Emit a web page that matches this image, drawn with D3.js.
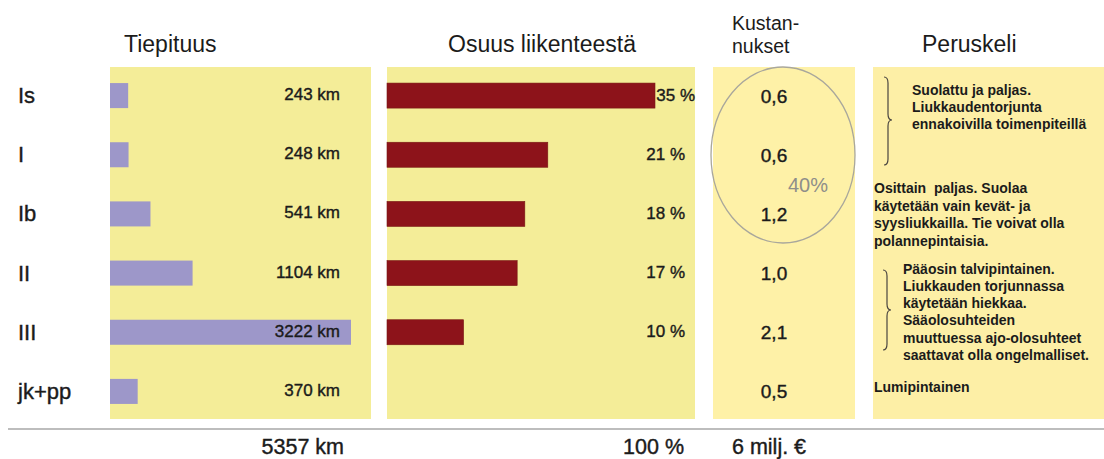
<!DOCTYPE html>
<html>
<head>
<meta charset="utf-8">
<script src="https://cdn.jsdelivr.net/npm/d3@7"></script>
<style>
  html, body { margin: 0; padding: 0; background: #fff; }
  svg { display: block; font-family: "Liberation Sans", Arial, Helvetica, sans-serif; }
  text { white-space: pre; }
</style>
</head>
<body>
<svg id="chart" width="1104" height="459"></svg>
<script>
// ---- data ----
const categories = ["Is", "I", "Ib", "II", "III", "jk+pp"];
const lengthKm = [243, 248, 541, 1104, 3222, 370];
const trafficShare = [35, 21, 18, 17, 10, null];
const costs = [0.6, 0.6, 1.2, 1.0, 2.1, 0.5];
const columnTitles = ["Tiepituus", "Osuus liikenteestä", ["Kustan-", "nukset"], "Peruskeli"];
const totals = ["5357 km", "100 %", "6 milj. €"];
const highlightShare = "40%";
const conditionBlock1 = ["Suolattu ja paljas.", "Liukkaudentorjunta", "ennakoivilla toimenpiteillä"];
const conditionBlock2 = ["Osittain  paljas. Suolaa", "käytetään vain kevät- ja", "syysliukkailla. Tie voivat olla", "polannepintaisia."];
const conditionBlock3 = ["Pääosin talvipintainen.", "Liukkauden torjunnassa", "käytetään hiekkaa.", "Sääolosuhteiden", "muuttuessa ajo-olosuhteet", "saattavat olla ongelmalliset."];
const conditionBlock4 = ["Lumipintainen"];

// ---- layout ----
const svg = d3.select("#chart");
const textCol = "#1b1b1b";
const panelTop = 67, panelBottom = 419;

const y = d3.scaleBand().domain(categories).range([66, 421])
  .paddingInner(0.577).paddingOuter(0.2885);
const yc = c => y(c) + y.bandwidth() / 2;

const xLen = d3.scaleLinear().domain([0, d3.max(lengthKm)]).range([110, 351]);
const xShare = d3.scaleLinear().domain([0, d3.max(trafficShare)]).range([387, 655]);

const panels = [
  {x0: 110, x1: 371, fill: "#F4ED98"},
  {x0: 387, x1: 695, fill: "#F4ED98"},
  {x0: 713, x1: 855, fill: "#FEF1A7"},
  {x0: 873, x1: 1104, fill: "#FDEFA6"}
];
svg.selectAll("rect.panel").data(panels).join("rect")
  .attr("class", "panel")
  .attr("x", d => d.x0).attr("y", panelTop)
  .attr("width", d => d.x1 - d.x0).attr("height", panelBottom - panelTop)
  .attr("fill", d => d.fill);

// medium-weight look
const heavy = sel => sel.attr("stroke", textCol).attr("stroke-width", 0.4);

// titles
const titleSize = 23;
svg.append("text").attr("x", 124).attr("y", 52).attr("font-size", titleSize)
  .attr("fill", textCol).text(columnTitles[0]);
svg.append("text").attr("x", 448).attr("y", 52).attr("font-size", titleSize)
  .attr("fill", textCol).text(columnTitles[1]);
svg.append("text").attr("x", 732).attr("font-size", 19.5).attr("fill", textCol)
  .selectAll("tspan").data(columnTitles[2]).join("tspan")
  .attr("x", 732).attr("y", (d, i) => 30 + i * 23).text(d => d);
svg.append("text").attr("x", 922).attr("y", 52).attr("font-size", titleSize)
  .attr("fill", textCol).text(columnTitles[3]);

// row labels
svg.selectAll("text.row").data(categories).join("text")
  .attr("class", "row")
  .attr("x", 18).attr("y", d => yc(d) + 7.5)
  .attr("font-size", 22).attr("fill", textCol).text(d => d)
  .call(heavy);

// length bars
svg.selectAll("rect.len").data(lengthKm).join("rect")
  .attr("class", "len")
  .attr("x", xLen(0)).attr("y", (d, i) => y(categories[i]))
  .attr("width", d => xLen(d) - xLen(0)).attr("height", y.bandwidth())
  .attr("fill", "#9D97C9");
svg.selectAll("text.len").data(lengthKm).join("text")
  .attr("class", "len")
  .attr("x", 340).attr("y", (d, i) => yc(categories[i]) + 4.5)
  .attr("text-anchor", "end").attr("font-size", 17).attr("fill", textCol)
  .text(d => d + " km")
  .call(heavy);

// traffic share bars
const shareData = trafficShare.map((v, i) => ({v, c: categories[i]})).filter(d => d.v != null);
svg.selectAll("rect.share").data(shareData).join("rect")
  .attr("class", "share")
  .attr("x", xShare(0)).attr("y", d => y(d.c))
  .attr("width", d => xShare(d.v) - xShare(0)).attr("height", y.bandwidth())
  .attr("fill", "#8D131A").attr("stroke", "#7a1a14").attr("stroke-width", 0.6);
svg.selectAll("text.share").data(shareData).join("text")
  .attr("class", "share")
  .attr("x", d => Math.max(685, xShare(d.v) + 40)).attr("y", d => yc(d.c) + 5)
  .attr("text-anchor", "end").attr("font-size", 17).attr("fill", textCol)
  .text(d => d.v + " %")
  .call(heavy);

// cost ellipse
svg.append("ellipse").attr("cx", 783).attr("cy", 155).attr("rx", 72).attr("ry", 88)
  .attr("fill", "none").attr("stroke", "#A9A79C").attr("stroke-width", 1.3);
svg.append("text").attr("x", 788).attr("y", 192).attr("font-size", 20)
  .attr("fill", "#8E8E8A").text(highlightShare);

// cost values
const fmt = v => d3.format(".1f")(v).replace(".", ",");
svg.selectAll("text.cost").data(costs).join("text")
  .attr("class", "cost")
  .attr("x", 774).attr("y", (d, i) => yc(categories[i]) + 7)
  .attr("text-anchor", "middle").attr("font-size", 19).attr("fill", textCol)
  .text(d => fmt(d))
  .call(heavy);

// condition texts
function block(lines, x, y0, dy) {
  svg.append("text").attr("font-size", 14).attr("font-weight", "bold").attr("fill", textCol)
    .selectAll("tspan").data(lines).join("tspan")
    .attr("x", x).attr("y", (d, i) => y0 + i * dy).text(d => d);
}
block(conditionBlock1, 912, 95, 17.2);
block(conditionBlock2, 874, 193, 17.7);
block(conditionBlock3, 903, 273.5, 17.3);
block(conditionBlock4, 874, 392, 17);

function brace(x0, x1, top, bottom, mid) {
  const xm = (x0 + x1) / 2, r = 6;
  const p = d3.path();
  p.moveTo(x0, top);
  p.quadraticCurveTo(xm, top, xm, top + r);
  p.lineTo(xm, mid - r);
  p.quadraticCurveTo(xm, mid, x1, mid);
  p.quadraticCurveTo(xm, mid, xm, mid + r);
  p.lineTo(xm, bottom - r);
  p.quadraticCurveTo(xm, bottom, x0, bottom);
  svg.append("path").attr("d", p.toString()).attr("fill", "none")
    .attr("stroke", "#4a4540").attr("stroke-width", 1.2);
}
brace(884, 892, 77, 165, 120);
brace(883, 891, 270, 350, 310);

// bottom line and totals
svg.append("line").attr("x1", 8).attr("x2", 1104).attr("y1", 429).attr("y2", 429)
  .attr("stroke", "#BDBDBD").attr("stroke-width", 2);
const totalSize = 21.5, totalY = 454;
svg.append("text").attr("x", 344).attr("y", totalY).attr("text-anchor", "end")
  .attr("font-size", totalSize).attr("fill", textCol).text(totals[0]).call(heavy);
svg.append("text").attr("x", 684).attr("y", totalY).attr("text-anchor", "end")
  .attr("font-size", totalSize).attr("fill", textCol).text(totals[1]).call(heavy);
svg.append("text").attr("x", 732).attr("y", totalY)
  .attr("font-size", totalSize).attr("fill", textCol).text(totals[2]).call(heavy);
</script>
</body>
</html>
